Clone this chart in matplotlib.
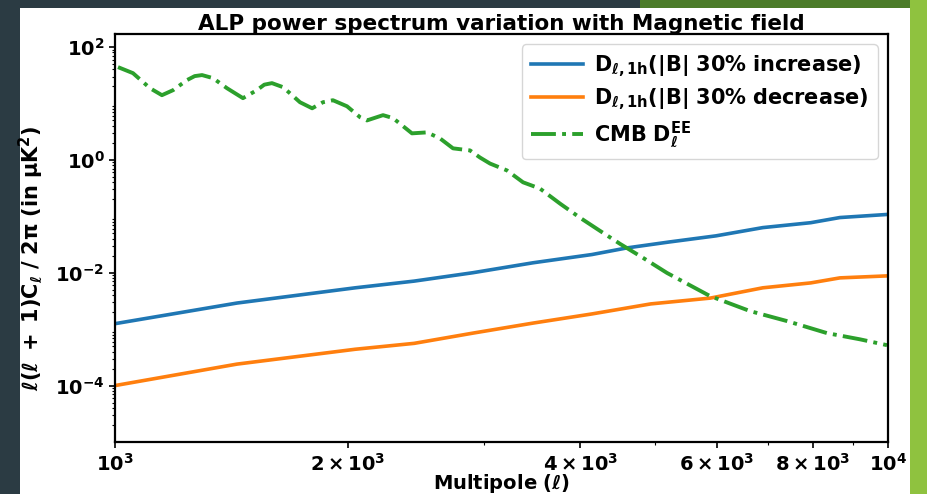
import numpy as np
import matplotlib
matplotlib.use("Agg")
import matplotlib.pyplot as plt
from matplotlib.patches import Rectangle
from matplotlib.ticker import FixedLocator, NullFormatter, LogLocator

# multipoles and spectra
ell_inc = [1000, 1438, 2045, 2438, 2904, 3474, 4140, 4594, 5208, 5990, 6887, 7945, 8665, 10000]
d_inc = [1.25e-3, 2.9e-3, 5.4e-3, 7.1e-3, 1.0e-2, 1.5e-2, 2.1e-2, 2.75e-2, 3.5e-2, 4.5e-2,
         6.3e-2, 7.7e-2, 9.5e-2, 1.08e-1]

ell_dec = [1000, 1438, 2045, 2438, 2904, 3474, 4140, 4932, 5890, 6887, 7945, 8665, 10000]
d_dec = [1.0e-4, 2.4e-4, 4.4e-4, 5.6e-4, 8.5e-4, 1.28e-3, 1.86e-3, 2.8e-3, 3.55e-3, 5.4e-3,
         6.6e-3, 8.1e-3, 8.8e-3]

ell_cmb = [1009, 1055, 1110, 1150, 1189, 1239, 1268, 1296, 1339, 1396, 1464, 1526, 1560, 1596,
           1650, 1735, 1799, 1858, 1914, 1996, 2075, 2118, 2222, 2289, 2422, 2533, 2633, 2737,
           2879, 2966, 3056, 3214, 3372, 3546, 3764, 3997, 4242, 4501, 4822, 5178, 5885, 6630,
           7402, 8340, 9200, 9970]
d_cmb = [44, 34.4, 18.6, 14.0, 17.2, 25.9, 30.5, 31.8, 28.1, 18.6, 12.4, 17.2, 21.5, 22.9,
         19.4, 10.5, 8.2, 10.5, 11.4, 8.9, 5.7, 5.0, 6.2, 5.5, 2.95, 3.07, 2.40, 1.60,
         1.47, 1.10, 0.86, 0.65, 0.40, 0.31, 0.168, 0.094, 0.055, 0.0325, 0.0183, 9.9e-3,
         3.86e-3, 2.09e-3, 1.39e-3, 8.5e-4, 6.6e-4, 5.2e-4]

x_ticks = [1000, 2000, 4000, 6000, 8000, 10000]
x_ticklabels = [r'$\mathbf{10^{3}}$', r'$\mathbf{2\times10^{3}}$', r'$\mathbf{4\times10^{3}}$',
                r'$\mathbf{6\times10^{3}}$', r'$\mathbf{8\times10^{3}}$', r'$\mathbf{10^{4}}$']
y_ticks = [1e-4, 1e-2, 1e0, 1e2]
y_ticklabels = [r'$\mathbf{10^{-4}}$', r'$\mathbf{10^{-2}}$', r'$\mathbf{10^{0}}$',
                r'$\mathbf{10^{2}}$']

W, H = 928, 494
fig = plt.figure(figsize=(W / 100, H / 100), dpi=100, facecolor='#2b3b43')

# slide background around the chart
for (x0, y0, w, h, c) in [(640, 486, 270, 8, '#4b7b29'),
                          (910, 0, 18, 494, '#8fc23f'),
                          (20, 0, 890, 486, 'white')]:
    fig.patches.append(Rectangle((x0 / W, y0 / H), w / W, h / H, transform=fig.transFigure,
                                 facecolor=c, edgecolor='none', zorder=-10))

ax = fig.add_axes([115 / W, 52 / H, 773 / W, 408 / H])
ax.set_zorder(5)
ax.plot(ell_inc, d_inc, color='#1f77b4', lw=2.6,
        label=r'$\mathbf{D_{\ell,1h}(|B|\ 30\%\ increase)}$')
ax.plot(ell_dec, d_dec, color='#ff7f0e', lw=2.6,
        label=r'$\mathbf{D_{\ell,1h}(|B|\ 30\%\ decrease)}$')
ax.plot(ell_cmb, d_cmb, color='#2ca02c', lw=2.8, ls='-.',
        label=r'$\mathbf{CMB\ D_{\ell}^{EE}}$')

ax.set_xscale('log')
ax.set_yscale('log')
ax.set_xlim(1000, 10000)
ax.set_ylim(1e-5, 1.7e2)

ax.xaxis.set_major_locator(FixedLocator(x_ticks))
ax.set_xticklabels(x_ticklabels)
ax.xaxis.set_minor_locator(FixedLocator([3000, 5000, 7000, 9000]))
ax.xaxis.set_minor_formatter(NullFormatter())
ax.yaxis.set_major_locator(FixedLocator(y_ticks))
ax.set_yticklabels(y_ticklabels)
ax.yaxis.set_minor_locator(LogLocator(base=10, subs=np.arange(2, 10), numticks=20))
ax.yaxis.set_minor_formatter(NullFormatter())

ax.set_title('ALP power spectrum variation with Magnetic field', fontsize=15.5,
             fontweight='bold', pad=3)
ax.set_xlabel(r'$\mathbf{Multipole\ (\ell)}$', fontsize=14, labelpad=-2)
ax.set_ylabel(r'$\mathbf{\ell(\ell\ +\ 1)C_\ell\ /\ 2\pi\ (in\ \mu K^2)}$', fontsize=15)
ax.yaxis.set_label_coords(-0.09, 0.45)

ax.tick_params(axis='both', which='major', labelsize=14, width=1.2, length=4)
ax.tick_params(axis='both', which='minor', width=0.8, length=2)
for sp in ax.spines.values():
    sp.set_linewidth(1.6)

ax.legend(loc='upper right', fontsize=15, handlelength=2.5, handletextpad=0.5,
          borderaxespad=0.5, labelspacing=0.35, borderpad=0.45)

fig.savefig('out.png', dpi=100, facecolor=fig.get_facecolor())
